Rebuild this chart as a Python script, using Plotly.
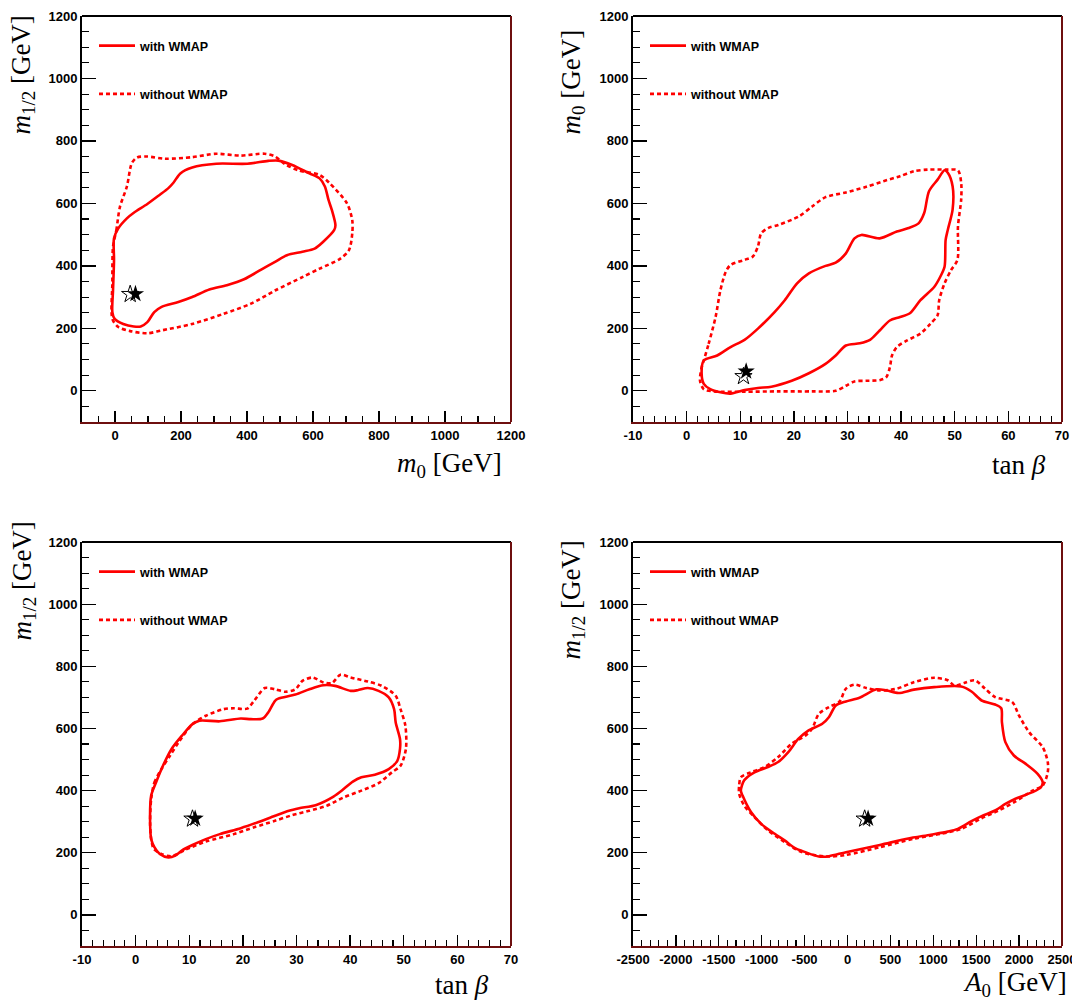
import plotly.graph_objects as go

W, H = 1072, 1003

# ---------------- data ----------------
# Panel 1: m0 vs m1/2
p1_with_x = [-3, 10, 36, 57, 98, 135, 161, 177, 198, 234, 307, 401, 464, 495, 537, 589, 620, 636, 647, 657, 668, 664, 631, 605, 568, 521, 485, 443, 391, 339, 286, 234, 192, 140, 119, 98, 78, 57, 25, -1, -8, -6, -3]
p1_with_y = [488, 520, 552, 570, 598, 627, 648, 666, 696, 715, 727, 727, 736, 737, 723, 696, 680, 654, 611, 579, 530, 514, 477, 455, 445, 434, 413, 388, 357, 338, 324, 300, 284, 268, 252, 220, 206, 206, 214, 230, 252, 321, 418]
p1_without_x = [-6, 4, 15, 36, 51, 67, 98, 151, 234, 307, 380, 453, 485, 516, 558, 620, 651, 703, 719, 719, 709, 683, 620, 568, 485, 412, 328, 234, 140, 98, 46, 10, -8, -8]
p1_without_y = [461, 514, 589, 654, 729, 747, 750, 743, 748, 759, 753, 759, 750, 725, 705, 691, 664, 600, 546, 504, 450, 423, 391, 364, 321, 279, 246, 214, 193, 184, 191, 204, 230, 343]

# Panel 2: tan(beta) vs m0
p2_with_x = [3.2, 5.7, 8.2, 10.8, 13.3, 16.4, 18.3, 20.6, 22.8, 25.9, 27.8, 29.7, 31.3, 32.6, 36.0, 39.2, 41.4, 43.3, 44.3, 45.2, 46.8, 48.1, 48.7, 49.6, 49.6, 48.7, 48.3, 48.1, 47.3, 46.2, 43.6, 41.7, 39.8, 37.9, 36.0, 34.2, 32.3, 29.7, 27.8, 25.9, 22.8, 19.6, 15.8, 13.3, 10.8, 8.2, 6.3, 4.4, 3.2, 2.8]
p2_with_y = [97, 113, 140, 163, 199, 252, 290, 344, 376, 400, 410, 440, 488, 499, 488, 510, 521, 537, 569, 639, 676, 706, 698, 655, 580, 515, 483, 397, 365, 333, 290, 249, 236, 225, 193, 163, 152, 145, 113, 86, 56, 32, 13, 9, 2, -9, -5, 5, 22, 54]
p2_without_x = [3.2, 4.1, 5.4, 6.3, 7.3, 8.2, 10.8, 12.3, 13.3, 13.9, 15.2, 17.1, 20.9, 23.4, 25.9, 29.7, 33.5, 36.7, 39.8, 42.4, 44.9, 48.7, 50.6, 51.2, 51.2, 50.6, 50.5, 49.3, 48.1, 47.1, 46.8, 45.5, 43.6, 41.1, 39.2, 38.3, 37.9, 37.2, 36.0, 33.5, 31.3, 29.7, 27.8, 23.4, 17.1, 10.8, 5.1, 3.2, 2.5, 2.8]
p2_without_y = [97, 150, 236, 322, 381, 403, 419, 429, 462, 504, 521, 531, 558, 590, 620, 635, 653, 671, 687, 703, 708, 708, 706, 666, 612, 526, 419, 386, 344, 290, 242, 215, 183, 161, 140, 113, 75, 43, 34, 32, 30, 16, 0, -2, -2, -3, -2, 5, 32, 75]

# Panel 3: tan(beta) vs m1/2
p3_with_x = [2.9, 3.8, 5.1, 6.7, 8.6, 10.6, 11.9, 15.7, 19.6, 21.5, 23.7, 24.7, 26.0, 26.6, 29.8, 32.4, 35.0, 37.2, 40.1, 41.4, 43.3, 45.3, 47.2, 48.2, 48.5, 49.3, 49.3, 48.8, 47.2, 44.6, 42.1, 40.5, 38.8, 36.9, 33.7, 30.5, 28.6, 26.0, 22.8, 19.6, 15.7, 13.1, 10.6, 8.6, 7.4, 6.1, 4.5, 3.5, 2.9, 2.7]
p3_with_y = [384, 426, 480, 534, 576, 614, 625, 623, 632, 630, 632, 651, 689, 696, 709, 726, 739, 737, 721, 723, 730, 721, 700, 662, 619, 566, 534, 496, 469, 451, 443, 429, 405, 381, 354, 343, 335, 319, 298, 279, 260, 244, 225, 207, 191, 185, 196, 218, 244, 298]
p3_without_x = [2.9, 3.5, 4.8, 6.4, 8.0, 10.6, 13.1, 16.4, 18.3, 20.8, 22.1, 24.1, 26.0, 27.9, 29.8, 31.1, 33.0, 35.0, 36.6, 38.2, 40.1, 43.3, 45.9, 48.5, 49.4, 50.3, 50.4, 49.4, 47.8, 45.3, 42.1, 38.8, 35.6, 32.4, 29.2, 26.0, 22.1, 18.3, 13.1, 9.3, 6.7, 4.8, 3.4, 2.9, 2.7]
p3_without_y = [373, 426, 469, 512, 555, 614, 641, 662, 665, 664, 689, 730, 726, 718, 726, 753, 764, 748, 746, 773, 764, 751, 737, 705, 662, 609, 534, 480, 459, 424, 400, 378, 351, 335, 321, 303, 282, 260, 236, 210, 189, 196, 212, 244, 298]

# Panel 4: A0 vs m1/2
p4_with_x = [-1243, -1204, -1085, -927, -808, -690, -571, -453, -294, -215, -136, -18, 140, 338, 457, 595, 773, 1010, 1326, 1445, 1563, 1721, 1792, 1800, 1840, 1939, 2078, 2216, 2275, 2255, 2156, 1958, 1840, 1721, 1563, 1445, 1286, 1168, 970, 694, 378, -18, -215, -334, -492, -611, -729, -848, -1006, -1125, -1223]
p4_with_y = [400, 433, 459, 476, 492, 524, 567, 594, 615, 637, 674, 687, 699, 726, 722, 714, 725, 733, 735, 719, 690, 677, 665, 620, 556, 513, 486, 454, 427, 411, 395, 374, 357, 336, 318, 302, 277, 268, 258, 245, 225, 202, 189, 188, 202, 215, 239, 261, 293, 331, 384]
p4_without_x = [-1263, -1243, -1125, -966, -808, -650, -492, -413, -334, -215, -97, -18, 81, 219, 378, 575, 773, 1010, 1168, 1247, 1366, 1484, 1603, 1721, 1919, 1998, 2117, 2275, 2334, 2334, 2275, 2156, 1958, 1761, 1563, 1326, 1089, 773, 378, -18, -255, -532, -729, -927, -1085, -1204, -1263]
p4_without_y = [416, 443, 459, 476, 508, 551, 577, 599, 647, 669, 685, 728, 741, 730, 722, 728, 749, 763, 755, 738, 747, 755, 728, 701, 685, 642, 588, 540, 492, 459, 416, 400, 365, 336, 311, 277, 261, 245, 218, 193, 188, 202, 234, 272, 315, 352, 390]

# best-fit points (open star / filled star)
star_open_m0, star_open_m12, star_open_tanb, star_open_a0 = 46, 309, 10.6, 200
star_fill_m0, star_fill_m12, star_fill_tanb, star_fill_a0 = 62, 310, 11.1, 240

# tick labels
y_ticks = [0, 200, 400, 600, 800, 1000, 1200]
x1_ticks = [0, 200, 400, 600, 800, 1000, 1200]
tanb_ticks = [-10, 0, 10, 20, 30, 40, 50, 60, 70]
a0_ticks = [-2500, -2000, -1500, -1000, -500, 0, 500, 1000, 1500, 2000, 2500]

legend_names = ["with WMAP", "without WMAP"]

# ---------------- styling ----------------
RED = "#ff0000"
FRAME_DARK = "#6e0f0f"
TICK_FONT = dict(family="Liberation Sans, Arial, sans-serif", size=13, color="black", weight="bold")
TITLE_FONT = dict(family="Liberation Serif, Times New Roman, serif", size=27, color="black")


def fx(px):
    return px / W


def fy(py):
    return 1 - py / H


panels = [
    dict(xd=(82, 511), yd=(16, 422), xr=(-100, 1200), xt=x1_ticks, xminor=50,
         cx=(p1_with_x, p1_without_x), cy=(p1_with_y, p1_without_y),
         star=((star_open_m0, star_open_m12), (star_fill_m0, star_fill_m12))),
    dict(xd=(633, 1062), yd=(16, 422), xr=(-10, 70), xt=tanb_ticks, xminor=2,
         cx=(p2_with_x, p2_without_x), cy=(p2_with_y, p2_without_y),
         star=((star_open_tanb, star_open_m0), (star_fill_tanb, star_fill_m0))),
    dict(xd=(82, 511), yd=(542, 946), xr=(-10, 70), xt=tanb_ticks, xminor=2,
         cx=(p3_with_x, p3_without_x), cy=(p3_with_y, p3_without_y),
         star=((star_open_tanb, star_open_m12), (star_fill_tanb, star_fill_m12))),
    dict(xd=(633, 1062), yd=(542, 946), xr=(-2500, 2500), xt=a0_ticks, xminor=100,
         cx=(p4_with_x, p4_without_x), cy=(p4_with_y, p4_without_y),
         star=((star_open_a0, star_open_m12), (star_fill_a0, star_fill_m12))),
]

fig = go.Figure()
layout = dict(template="none", width=W, height=H, margin=dict(l=0, r=0, t=0, b=0, pad=0),
              paper_bgcolor="white", plot_bgcolor="white", showlegend=True)
shapes = []

for i, p in enumerate(panels):
    n = "" if i == 0 else str(i + 1)
    xa, ya = "x" + n, "y" + n
    leg = "legend" + n
    for j, (cxs, cys) in enumerate(zip(p["cx"], p["cy"])):
        xs = list(cxs) + [cxs[0]]
        ys = list(cys) + [cys[0]]
        fig.add_trace(go.Scatter(
            x=xs, y=ys, xaxis=xa, yaxis=ya, mode="lines",
            line=dict(color=RED, width=2.6, shape="spline", smoothing=0.8,
                      dash="solid" if j == 0 else "4px,3px"),
            name=legend_names[j], legend=leg, legendgroup=f"g{i}{j}",
            hoverinfo="skip"))
    (ox, oy), (fxv, fyv) = p["star"]
    fig.add_trace(go.Scatter(x=[ox], y=[oy], xaxis=xa, yaxis=ya, mode="markers",
                             marker=dict(symbol="star-open", size=13, color="black",
                                         line=dict(width=1, color="black")),
                             showlegend=False, hoverinfo="skip"))
    fig.add_trace(go.Scatter(x=[fxv], y=[fyv], xaxis=xa, yaxis=ya, mode="markers",
                             marker=dict(symbol="star", size=13, color="black",
                                         line=dict(width=0)),
                             showlegend=False, hoverinfo="skip"))

    x0, x1 = p["xd"]
    y0, y1 = p["yd"]
    layout["xaxis" + n] = dict(
        domain=[fx(x0), fx(x1)], range=list(p["xr"]), anchor=ya, automargin=False,
        tickmode="array", tickvals=p["xt"], ticktext=[str(v) for v in p["xt"]],
        ticks="inside", ticklen=11, tickwidth=1.3, tickcolor="black",
        ticklabeloverflow="allow",
        minor=dict(tickmode="linear", tick0=0, dtick=p["xminor"], ticks="inside",
                   ticklen=6, tickwidth=1.1, tickcolor="black", showgrid=False),
        showline=True, linecolor=FRAME_DARK, linewidth=2, mirror=False,
        showgrid=False, zeroline=False, tickfont=TICK_FONT, fixedrange=True)
    layout["yaxis" + n] = dict(
        domain=[fy(y1), fy(y0)], range=[-100, 1200], anchor=xa, automargin=False,
        tickmode="array", tickvals=y_ticks, ticktext=[str(v) for v in y_ticks],
        ticks="inside", ticklen=14, tickwidth=1.3, tickcolor="black",
        ticklabeloverflow="allow",
        minor=dict(tickmode="linear", tick0=0, dtick=50, ticks="inside",
                   ticklen=7, tickwidth=1.1, tickcolor="black", showgrid=False),
        showline=True, linecolor="black", linewidth=2, mirror=False,
        showgrid=False, zeroline=False, tickfont=TICK_FONT, fixedrange=True)
    shapes.append(dict(type="line", xref=xa + " domain", yref=ya + " domain",
                       x0=0, x1=1, y0=1, y1=1, line=dict(color="black", width=2)))
    shapes.append(dict(type="line", xref=xa + " domain", yref=ya + " domain",
                       x0=1, x1=1, y0=0, y1=1, line=dict(color=FRAME_DARK, width=2)))
    layout[leg] = dict(x=fx(x0 + 12), y=fy(y0 + 15), xanchor="left", yanchor="top",
                       bgcolor="rgba(0,0,0,0)", borderwidth=0, tracegroupgap=29,
                       itemwidth=36,
                       font=dict(family="Liberation Sans, Arial, sans-serif", size=12.5,
                                 color="black", weight="bold"))

layout["shapes"] = shapes

titles = [
    dict(text="<i>m</i><sub>1/2</sub> [GeV]", x=fx(23), y=fy(137), xanchor="center", yanchor="bottom", textangle=-90),
    dict(text="<i>m</i><sub>0</sub> [GeV]", x=fx(573), y=fy(137), xanchor="center", yanchor="bottom", textangle=-90),
    dict(text="<i>m</i><sub>1/2</sub> [GeV]", x=fx(23), y=fy(643), xanchor="center", yanchor="bottom", textangle=-90),
    dict(text="<i>m</i><sub>1/2</sub> [GeV]", x=fx(572), y=fy(662), xanchor="center", yanchor="bottom", textangle=-90),
    dict(text="<i>m</i><sub>0</sub> [GeV]", x=fx(504), y=fy(465), xanchor="right", yanchor="middle", textangle=0),
    dict(text="tan <i>β</i>", x=fx(1048), y=fy(465), xanchor="right", yanchor="middle", textangle=0),
    dict(text="tan <i>β</i>", x=fx(491), y=fy(985), xanchor="right", yanchor="middle", textangle=0),
    dict(text="<i>A</i><sub>0</sub> [GeV]", x=fx(1069), y=fy(984), xanchor="right", yanchor="middle", textangle=0),
]
layout["annotations"] = [dict(xref="paper", yref="paper", showarrow=False, font=TITLE_FONT, **t) for t in titles]

fig.update_layout(**layout)
# remove the default page margin so the 1072x1003 figure fills the window exactly
fig.write_html("out.html",
               config={"displayModeBar": False, "staticPlot": True},
               post_script="document.body.style.margin='0';document.body.style.overflow='hidden';")
